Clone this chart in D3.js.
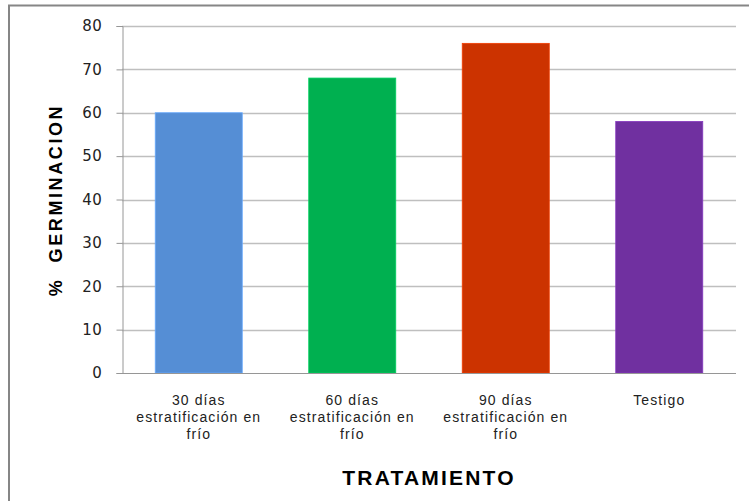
<!DOCTYPE html>
<html>
<head>
<meta charset="utf-8">
<script src="https://cdn.jsdelivr.net/npm/d3@7/dist/d3.min.js"></script>
<style>
  html, body { margin: 0; padding: 0; background: #fff; }
  svg { display: block; }
</style>
</head>
<body>
<svg id="chart" width="749" height="501"></svg>
<script>
// Germination percentage per stratification treatment
const categories = [
  ["30 días", "estratificación en", "frío"],
  ["60 días", "estratificación en", "frío"],
  ["90 días", "estratificación en", "frío"],
  ["Testigo"]
];
const germination = [60, 68, 76, 58];
const barColors = ["#558ed5", "#00b050", "#cc3300", "#7030a0"];
const yTicks = [0, 10, 20, 30, 40, 50, 60, 70, 80];
const yTitle = "%  GERMINACION";
const xTitle = "TRATAMIENTO";

const svg = d3.select("#chart");

// Chart frame
svg.append("rect")
  .attr("x", 9).attr("y", 5.5)
  .attr("width", 760).attr("height", 520)
  .attr("fill", "#fff")
  .attr("stroke", "#868686").attr("stroke-width", 2);

const plot = { left: 122, right: 736, top: 26, bottom: 373 };

const x = d3.scaleBand()
  .domain(d3.range(categories.length))
  .range([plot.left, plot.right])
  .paddingInner(0.433)
  .paddingOuter(0.2165);

const y = d3.scaleLinear()
  .domain([0, 80])
  .range([plot.bottom, plot.top]);

// Horizontal gridlines
svg.append("g")
  .selectAll("line")
  .data(yTicks.filter(d => d > 0))
  .join("line")
  .attr("x1", plot.left).attr("x2", plot.right)
  .attr("y1", d => Math.round(y(d)) + 0.5)
  .attr("y2", d => Math.round(y(d)) + 0.5)
  .attr("stroke", "#bfbfbf").attr("stroke-width", 1.3);

// Y axis
const yAxis = svg.append("g")
  .attr("transform", `translate(${plot.left + 0.5},0)`)
  .call(d3.axisLeft(y).tickValues(yTicks).tickSize(6).tickPadding(14).tickFormat(d3.format("d")));
yAxis.attr("font-size", null).attr("font-family", null);
yAxis.select(".domain").attr("stroke", "#969696");
yAxis.selectAll(".tick line").attr("stroke", "#969696");
yAxis.selectAll(".tick text")
  .attr("fill", "#222")
  .style("font-family", "'DejaVu Sans', Verdana, sans-serif")
  .style("font-size", "15px")
  .style("letter-spacing", "0.6px");

// Bars
svg.append("g")
  .selectAll("rect")
  .data(germination)
  .join("rect")
  .attr("x", (d, i) => x(i))
  .attr("y", d => y(d))
  .attr("width", x.bandwidth())
  .attr("height", d => y(0) - y(d))
  .attr("fill", (d, i) => barColors[i])
  .attr("stroke", (d, i) => d3.color(barColors[i]).brighter(0.5))
  .attr("stroke-width", 0.8);

// X axis baseline
svg.append("line")
  .attr("x1", plot.left).attr("x2", plot.right)
  .attr("y1", plot.bottom + 0.5).attr("y2", plot.bottom + 0.5)
  .attr("stroke", "#969696").attr("stroke-width", 1);

// Category labels
const catLabels = svg.append("g")
  .selectAll("text")
  .data(categories)
  .join("text")
  .attr("x", (d, i) => x(i) + x.bandwidth() / 2)
  .attr("y", 405)
  .attr("text-anchor", "middle")
  .attr("fill", "#222")
  .style("font-family", "'Liberation Sans', Arial, sans-serif")
  .style("font-size", "14px")
  .style("letter-spacing", "1.1px");
catLabels.selectAll("tspan")
  .data(d => d)
  .join("tspan")
  .attr("x", function () { return d3.select(this.parentNode).attr("x"); })
  .attr("dy", (d, i) => i === 0 ? 0 : 17)
  .text(d => d);

// Axis titles
svg.append("text")
  .attr("x", (plot.left + plot.right) / 2)
  .attr("y", 485)
  .attr("text-anchor", "middle")
  .attr("fill", "#000")
  .style("font-family", "'Liberation Sans', Arial, sans-serif")
  .style("font-weight", "bold")
  .style("font-size", "21px")
  .style("letter-spacing", "2.2px")
  .text(xTitle);

svg.append("text")
  .attr("transform", "translate(62,200) rotate(-90)")
  .attr("text-anchor", "middle")
  .attr("fill", "#000")
  .style("font-family", "'Liberation Sans', Arial, sans-serif")
  .style("font-weight", "bold")
  .style("font-size", "18px")
  .style("letter-spacing", "2.6px")
  .style("white-space", "pre")
  .text(yTitle);
</script>
</body>
</html>
